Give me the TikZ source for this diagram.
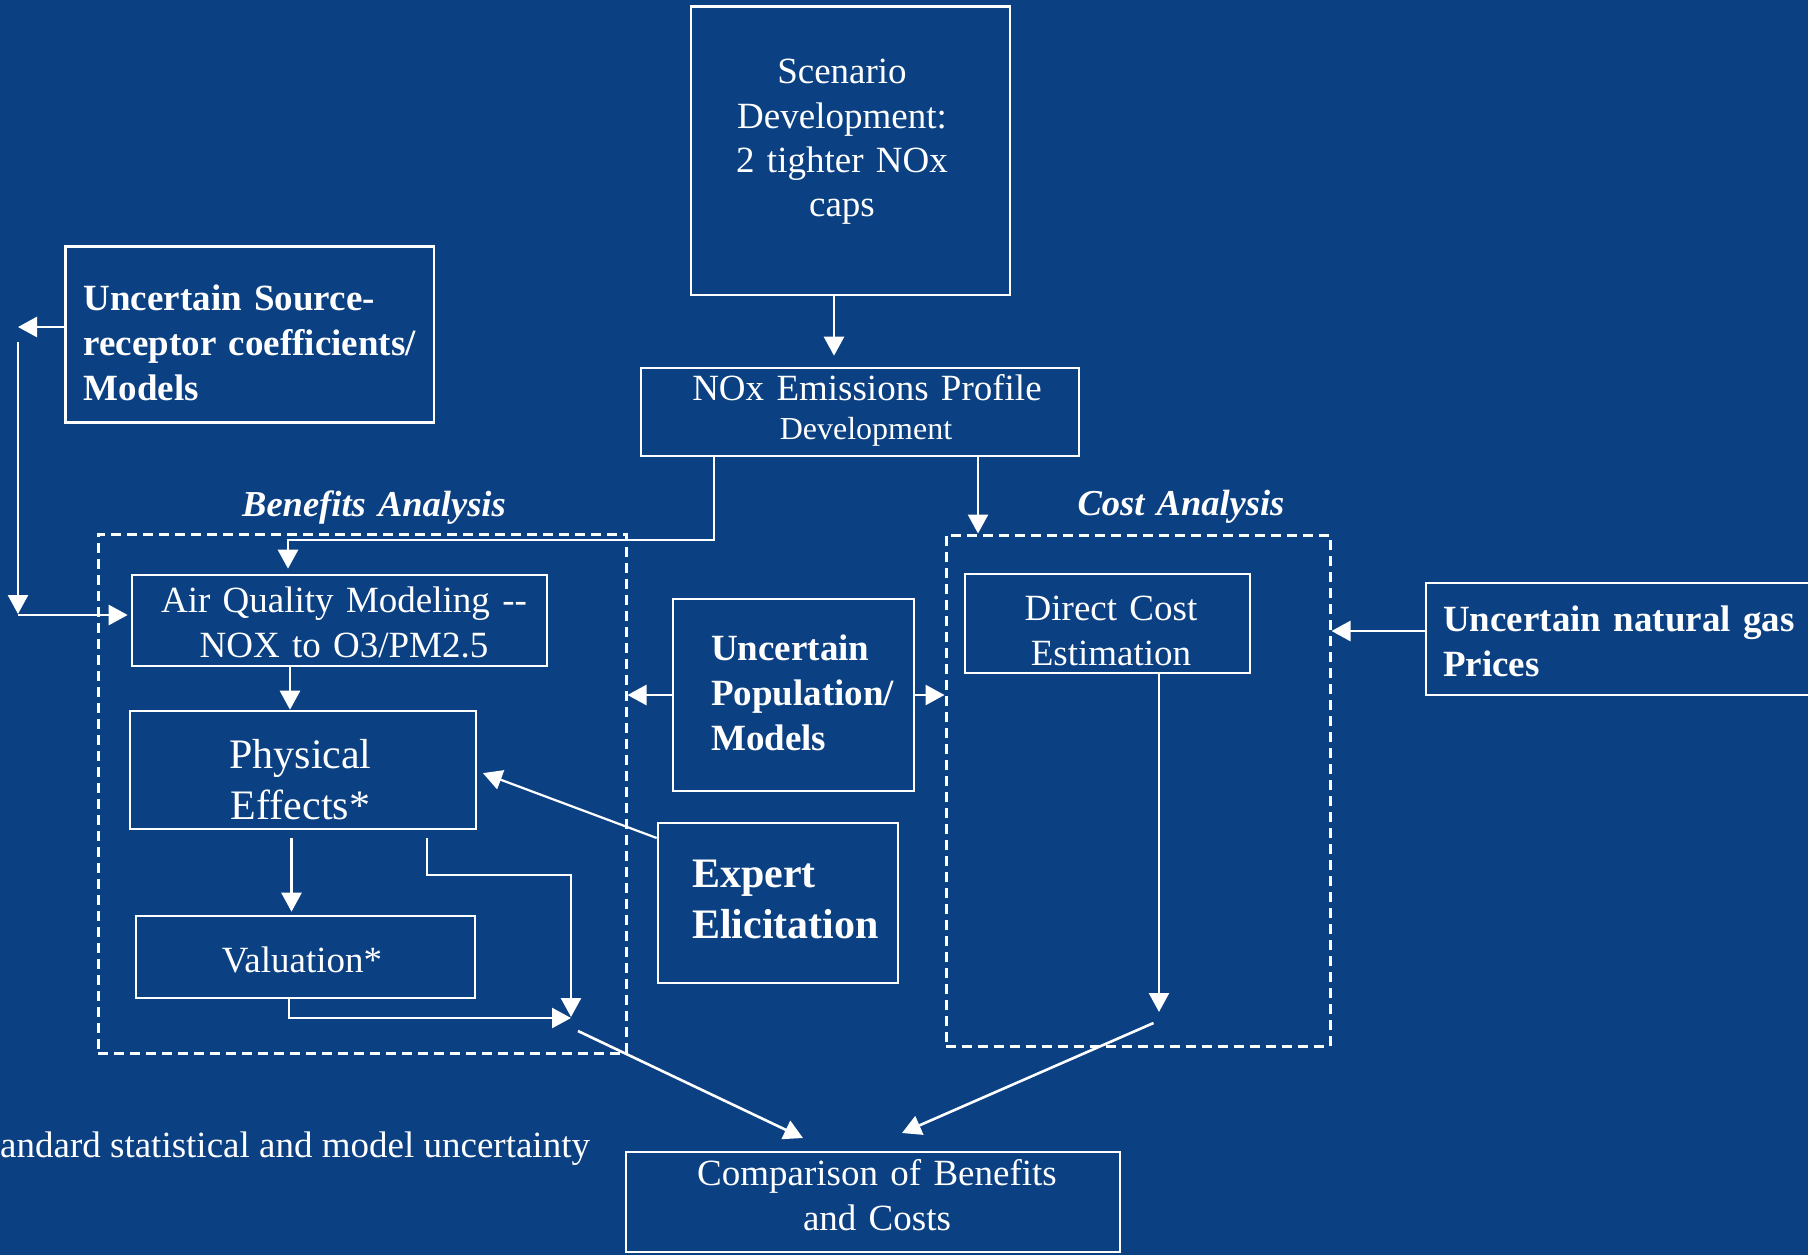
\documentclass[tikz,border=0pt]{standalone}
\usepackage{fontspec}
\setmainfont{Liberation Serif}
\usetikzlibrary{arrows.meta,fit}
\definecolor{bgblue}{RGB}{11,64,130}
\begin{document}
\begin{tikzpicture}[x=1pt,y=-1pt,
  box/.style={draw=white,line width=2.6pt,inner sep=0pt},
  dbox/.style={draw=white,line width=3pt,dash pattern=on 10pt off 6pt,inner sep=0pt},
  arr/.style={white,line width=2.6pt,-{Triangle[length=19pt,width=20pt]}},
  ctext/.style={text=white,inner sep=0pt,anchor=base,text width=500pt,align=center},
  ltext/.style={text=white,inner sep=0pt,anchor=base west,text width=500pt,align=left},
  reg/.style={font=\fontsize{37}{45}\selectfont},
  bld/.style={font=\fontsize{37}{45}\selectfont\bfseries},
]
\useasboundingbox (0,0) rectangle (1808,1255);
\fill[bgblue] (0,0) rectangle (1808,1255);
\clip (0,0) rectangle (1808,1255);

% boxes
\node[box,fit={(691,6.4)(1010,295)}] (scen) {};
\node[box,fit={(641,368)(1079,456)}] (nox) {};
\node[box,fit={(65.6,246.7)(434,422.7)}] (src) {};
\node[dbox,fit={(98,534)(626,1053)}] (ben) {};
\node[dbox,fit={(946,535)(1330,1046)}] (cost) {};
\node[box,fit={(132,575)(547,666)}] (aq) {};
\node[box,fit={(130,711)(476,829)}] (pe) {};
\node[box,fit={(136,916)(475,998)}] (val) {};
\node[box,fit={(673,599)(914,791)}] (pop) {};
\node[box,fit={(658,823)(898,983)}] (exp) {};
\node[box,fit={(965,574)(1250,673)}] (dc) {};
\node[box,fit={(1426,583)(1830,695)}] (gas) {};
\node[box,fit={(626,1152)(1120,1252)}] (cmp) {};

% texts
\node[ctext,font=\fontsize{37}{44.3}\selectfont] (scent) at (842,84) {Scenario\\Development:\\2 tighter NOx\\caps};
\node[ctext,reg] (noxt1) at (867,400) {NOx Emissions Profile};
\node[ctext,font=\fontsize{32}{38}\selectfont] (noxt2) at (866,439) {Development};
\node[ltext,bld] (srct) at (83.5,310) {Uncertain Source-\\receptor coefficients/\\Models};
\node[ctext,font=\fontsize{36.5}{44}\selectfont\bfseries\itshape] (bent) at (374,516) {Benefits Analysis};
\node[ctext,font=\fontsize{36.5}{44}\selectfont\bfseries\itshape] (costt) at (1181,515) {Cost Analysis};
\node[ctext,reg] (aqt) at (344,612) {Air Quality Modeling -\kern0pt-\\NOX to O3/PM2.5};
\node[ctext,font=\fontsize{42}{51}\selectfont] (pet) at (300.5,768) {Physical\\Effects*};
\node[ctext,reg] (valt) at (302,972) {Valuation*};
\node[ltext,bld] (popt) at (711,660) {Uncertain\\Population/\\Models};
\node[ltext,font=\fontsize{42}{51}\selectfont\bfseries] (expt) at (692,887) {Expert\\Elicitation};
\node[ctext,reg] (dct) at (1111,620) {Direct Cost\\Estimation};
\node[ltext,bld] (gast) at (1443,631) {Uncertain natural gas\\Prices};
\node[ctext,reg] (cmpt) at (877,1185) {Comparison of Benefits\\and Costs};
\node[anchor=base west,text=white,inner sep=0pt,reg] (note) at (0,1157) {andard statistical and model uncertainty};

% coordinates
\coordinate (c1) at (834,0);
\coordinate (c2) at (714,540);
\coordinate (c3) at (288,540);
\coordinate (c4) at (978,0);
\coordinate (c5) at (18,327);
\coordinate (c6) at (18,342);
\coordinate (c7) at (18,614);
\coordinate (c8) at (18,615);
\coordinate (c9) at (290,0);
\coordinate (c10) at (291.5,0);
\coordinate (c11) at (427,875);
\coordinate (c12) at (571,875);
\coordinate (mg) at (571,1017);
\coordinate (c13) at (289,1018);
\coordinate (mg2) at (571,1018);
\coordinate (bout) at (578,1031);
\coordinate (bin) at (803,1138);
\coordinate (c14) at (1159,0);
\coordinate (c15) at (1159,1012);
\coordinate (cout) at (1153.5,1023);
\coordinate (cin) at (902,1133);
\coordinate (c16) at (0,631);
\coordinate (c17) at (0,838);
\coordinate (c18) at (0,771);

% connectors
\draw[arr,shorten >=11pt] (scen.south -| c1) -- (nox.north -| c1);
\draw[arr,shorten >=5pt] (nox.south -| c2) -- (c2) -- (c3) -- (aq.north -| c3);
\draw[arr] (nox.south -| c4) -- (cost.north -| c4);
\draw[arr] (src.west |- c5) -- (c5);
\draw[arr] (c6) -- (c7);
\draw[arr,shorten >=3pt] (c8) -- (aq.west |- c8);
\draw[arr] (aq.south -| c9) -- (pe.north -| c9);
\draw[arr,shorten <=8pt,shorten >=3pt] (pe.south -| c10) -- (val.north -| c10);
\draw[arr,shorten <=8pt] (pe.south -| c11) -- (c11) -- (c12) -- (mg);
\draw[arr] (val.south -| c13) -- (c13) -- (mg2);
\draw[arr] (bout) -- (bin);
\draw[arr] (dc.south -| c14) -- (c15);
\draw[arr] (cout) -- (cin);
\draw[arr] (gas.west |- c16) -- (cost.east |- c16);
\draw[arr] (pop.west) -- (ben.east |- pop.west);
\draw[arr] (pop.east) -- (cost.west |- pop.east);
\draw[arr,line width=2.2pt,shorten >=6pt] (exp.west |- c17) -- (pe.east |- c18);
\end{tikzpicture}
\end{document}
